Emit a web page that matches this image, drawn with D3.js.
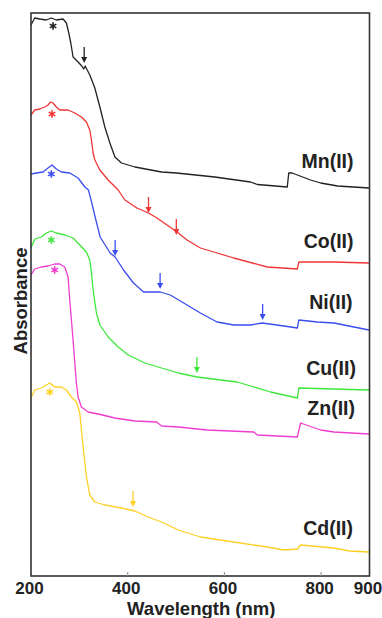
<!DOCTYPE html>
<html>
<head>
<meta charset="utf-8">
<script src="https://cdn.jsdelivr.net/npm/d3@7"></script>
<style>
  html, body { margin: 0; padding: 0; background: #fff; }
  svg { display: block; }
  text { font-family: "Liberation Sans", Arial, Helvetica, sans-serif; font-weight: bold; fill: #222; }
</style>
</head>
<body>
<svg id="chart" width="382" height="618"></svg>
<script>
// ---------- data (wavelength nm, stacked absorbance a.u.) ----------
const xTickValues = [200, 400, 600, 800, 900];
const xTickMarks = [400, 600, 800];
const seriesNames = ["Mn(II)", "Co(II)", "Ni(II)", "Cu(II)", "Zn(II)", "Cd(II)"];

const mnSpectrum = [[200,5.51],[207.7,5.58],[218,5.57],[231.7,5.56],[242,5.58],[252.4,5.56],[266.3,5.57],[273.2,5.53],[278.1,5.43],[282.3,5.33],[287,5.19],[297.4,5.14],[305,5.10],[309,5.07],[312,5.10],[321.6,5.01],[332,4.88],[342.4,4.69],[352.7,4.49],[363.1,4.33],[373.5,4.19],[387.1,4.13],[414.9,4.09],[470,4.04],[501,4.03],[580,3.99],[654,3.94],[668,3.915],[730,3.89],[733,4.03],[740,4.03],[778,3.96],[799,3.93],[834,3.90],[899,3.88]];
const coSpectrum = [[200,4.61],[207.7,4.66],[218,4.67],[228.4,4.69],[235.2,4.71],[240.8,4.74],[245.6,4.73],[252.4,4.69],[259.5,4.66],[276.7,4.66],[290.6,4.63],[304.2,4.59],[314.6,4.54],[321.6,4.46],[325,4.36],[328.5,4.23],[332,4.16],[342.4,4.06],[359.6,3.96],[380.3,3.86],[394.2,3.76],[419,3.68],[443.1,3.63],[460.5,3.58],[481.2,3.51],[502,3.44],[522.7,3.36],[550.3,3.28],[584.9,3.23],[619.3,3.18],[688.5,3.09],[750.7,3.07],[754,3.14],[826.5,3.14],[899,3.13]];
const niSpectrum = [[200,4.02],[211,4.03],[224.9,4.04],[235.2,4.08],[243.5,4.11],[252.4,4.07],[262.8,4.04],[280.2,4.03],[297.4,3.98],[311.3,3.89],[318.8,3.86],[325.8,3.73],[332.6,3.59],[343,3.39],[363.7,3.23],[374.1,3.19],[391.3,3.06],[412,2.93],[432.7,2.84],[467.3,2.84],[488,2.81],[522.7,2.71],[550.3,2.63],[584.9,2.54],[619.3,2.51],[653.9,2.51],[678.1,2.53],[722.9,2.50],[750.7,2.48],[754,2.56],[792.1,2.54],[826.5,2.53],[899,2.46]];
const cuSpectrum = [[200,3.28],[207.7,3.37],[221.3,3.39],[231.7,3.43],[242,3.45],[252.4,3.43],[269.8,3.41],[287,3.38],[300.9,3.31],[314.6,3.24],[321.6,3.16],[325,3.03],[328.5,2.86],[335.3,2.63],[342.4,2.51],[359.6,2.39],[380.3,2.29],[401,2.21],[435.6,2.13],[470,2.08],[504.7,2.03],[543.4,1.99],[626.3,1.94],[695.3,1.84],[750.7,1.78],[754,1.88],[899,1.86]];
const znSpectrum = [[200,3.01],[207.7,3.07],[221.3,3.09],[235.2,3.10],[249.1,3.12],[259.5,3.12],[269.8,3.09],[276.7,2.99],[280.2,2.76],[287,2.36],[290.6,2.13],[293.9,1.93],[297.4,1.79],[304.2,1.69],[318.1,1.64],[338.9,1.62],[373.5,1.58],[414.9,1.55],[459.7,1.54],[470,1.50],[504.7,1.49],[564.1,1.46],[660.7,1.44],[667.8,1.41],[750.7,1.39],[757.5,1.53],[799,1.46],[826.5,1.44],[899,1.42]];
const cdSpectrum = [[200,1.78],[207.7,1.86],[221.3,1.88],[231.7,1.91],[238.8,1.93],[249.1,1.89],[262.8,1.89],[273.2,1.86],[283.5,1.79],[293.9,1.74],[300.9,1.63],[307.8,1.29],[314.6,0.99],[321.6,0.81],[332,0.74],[352.7,0.71],[387.1,0.68],[414.9,0.65],[442.5,0.59],[470,0.54],[504.7,0.46],[550.3,0.39],[619.3,0.34],[688.5,0.29],[722.9,0.26],[750.7,0.27],[757.5,0.31],[826.5,0.28],[859.1,0.25],[899,0.24]];

// band markers: [series index, wavelength, absorbance at arrow tip]
const arrowMarks = [[0,310,5.13],[1,443,3.63],[1,500.5,3.41],[2,374,3.20],[2,467,2.87],[2,679,2.56],[3,543,2.03],[5,411,0.69]];
// asterisks: [series index, wavelength, absorbance]
const starMarks = [[0,245.6,5.50],[1,243.5,4.62],[2,242,4.02],[3,242,3.36],[4,249,3.06],[5,238.8,1.84]];
// label anchor (right end, baseline): [wavelength, absorbance]
const labelPos = [[867,4.08],[867,3.28],[865,2.67],[872,2.01],[870,1.61],[866,0.41]];

const seriesColors = ["#222222", "#f03535", "#3a4ef0", "#3ee83a", "#f03ccf", "#ffd024"];
const spectra = [mnSpectrum, coSpectrum, niSpectrum, cuSpectrum, znSpectrum, cdSpectrum];

// ---------- layout ----------
const svg = d3.select("#chart");
const L = 31, R = 369.5, T = 13, B = 576;
const x = d3.scaleLinear().domain([200, 900]).range([L, R]);
const y = d3.scaleLinear().domain([0, 5.63]).range([B, T]);

// curves
const line = d3.line().x(d => x(d[0])).y(d => y(d[1]));
svg.append("g").selectAll("path").data(spectra).join("path")
  .attr("d", line)
  .attr("fill", "none")
  .attr("stroke", (d, i) => seriesColors[i])
  .attr("stroke-width", 1.3)
  .attr("stroke-linejoin", "round");

// arrows
const ag = svg.append("g");
arrowMarks.forEach(([s, wl, a]) => {
  const px = x(wl), py = y(a);
  const c = seriesColors[s];
  ag.append("line").attr("x1", px).attr("x2", px).attr("y1", py - 16).attr("y2", py - 4)
    .attr("stroke", c).attr("stroke-width", 1.3);
  ag.append("path").attr("d", `M${px - 3},${py - 6} L${px + 3},${py - 6} L${px},${py} Z`)
    .attr("fill", c);
});

// asterisks
const star = d3.symbol().type(d3.symbolAsterisk).size(40);
svg.append("g").selectAll("path").data(starMarks).join("path")
  .attr("d", star)
  .attr("transform", d => `translate(${x(d[1])},${y(d[2])})`)
  .attr("fill", "none")
  .attr("stroke", d => seriesColors[d[0]])
  .attr("stroke-width", 1.6);

// series labels
svg.append("g").selectAll("text").data(seriesNames).join("text")
  .attr("x", (d, i) => x(labelPos[i][0]))
  .attr("y", (d, i) => y(labelPos[i][1]))
  .attr("text-anchor", "end")
  .style("font-size", "19.5px")
  .text(d => d);

// frame
svg.append("rect").attr("x", L).attr("y", T).attr("width", R - L).attr("height", B - T)
  .attr("fill", "none").attr("stroke", "#333").attr("stroke-width", 1.6);

// x axis
const xAxis = d3.axisBottom(x).tickValues(xTickValues).tickFormat(d3.format("d"))
  .tickSizeInner(0).tickSizeOuter(0).tickPadding(6);
const gx = svg.append("g").attr("transform", `translate(0,${B})`).call(xAxis);
gx.select(".domain").remove();
gx.selectAll("text").style("font-size", "17px").attr("fill", "#222").attr("dx", "-2")
  .style("font-family", "'Liberation Sans', Arial, sans-serif").style("font-weight", "bold");

// inner tick marks
svg.append("g").selectAll("line").data(xTickMarks).join("line")
  .attr("x1", d => x(d)).attr("x2", d => x(d)).attr("y1", B - 4).attr("y2", B)
  .attr("stroke", "#999").attr("stroke-width", 1.2);

// axis titles
svg.append("text").attr("x", (L + R) / 2 + 1).attr("y", 615)
  .attr("text-anchor", "middle").style("font-size", "18.5px").text("Wavelength (nm)");
svg.append("text").attr("transform", `translate(27,301) rotate(-90)`)
  .attr("text-anchor", "middle").style("font-size", "18.5px").text("Absorbance");
</script>
</body>
</html>
